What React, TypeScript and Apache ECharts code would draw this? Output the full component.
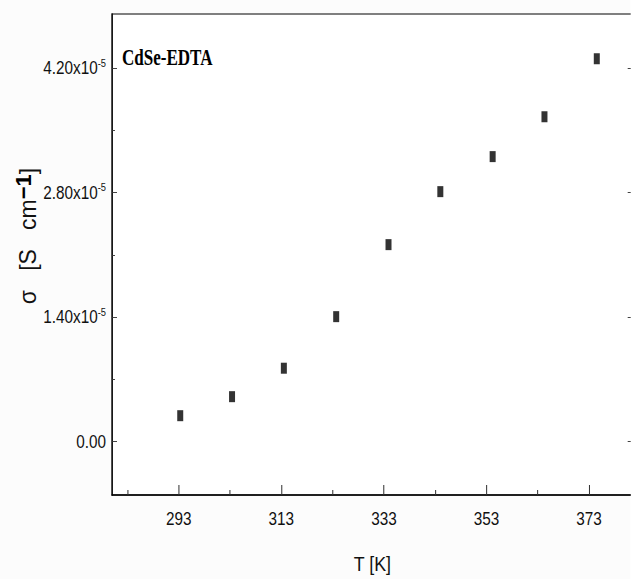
import React, { useEffect, useRef } from "react";
import * as echarts from "echarts";

// Data
const temperatureK: number[] = [293.3, 303.4, 313.5, 323.7, 333.9, 344.0, 354.2, 364.3, 374.5];
const conductivity: number[] = [0.292e-5, 0.506e-5, 0.826e-5, 1.406e-5, 2.216e-5, 2.812e-5, 3.206e-5, 3.655e-5, 4.308e-5];

const xMajorTicks: number[] = [293, 313, 333, 353, 373];
const xMinorTicks: number[] = [283, 303, 323, 343, 363];
const yMajorTicks: number[] = [0, 1.4e-5, 2.8e-5, 4.2e-5];
const yMinorTicks: number[] = [0.7e-5, 2.1e-5, 3.5e-5];

const sampleLabel = "CdSe-EDTA";
const xTitle = "T [K]";

// The reference is horizontally condensed; draw wider and squeeze with CSS.
const SQUEEZE = 0.85;
const W = 631 / SQUEEZE;
const H = 579;
const sx = (v: number) => v / SQUEEZE;

const sans = '"Liberation Sans", Arial, sans-serif';

export default function App() {
  const ref = useRef<HTMLDivElement>(null);
  useEffect(() => {
    if (!ref.current) return;
    const chart = echarts.init(ref.current, null, { renderer: "svg" });
    const xMin = 280;
    const xMax = 381.5;
    const yMin = -0.6e-5;
    const yMax = 4.81e-5;
    const fmtY = (v: number) => {
      if (Math.abs(v) < 1e-12) return "0.00";
      return (v * 1e5).toFixed(2) + "x10{s|-5}";
    };
    chart.setOption({
      animation: false,
      backgroundColor: "#fcfcfc",
      grid: {
        left: sx(112),
        top: 14,
        right: W - sx(633),
        bottom: 84,
        show: true,
        backgroundColor: "#ffffff",
        borderColor: "#555555",
        borderWidth: 1.5,
        outerBoundsMode: "none",
        containLabel: false,
      },
      xAxis: [
        {
          type: "value",
          min: xMin,
          max: xMax,
          position: "bottom",
          axisLine: { show: true, onZero: false, lineStyle: { color: "#000", width: 1.5 } },
          axisTick: { show: true, inside: true, length: 10, customValues: xMajorTicks, lineStyle: { color: "#333", width: 1.2 } },
          axisLabel: {
            show: true,
            customValues: xMajorTicks,
            margin: 15,
            fontSize: 18,
            fontFamily: sans,
            color: "#111",
          },
          splitLine: { show: false },
          name: xTitle,
          nameLocation: "middle",
          nameGap: 58,
          nameTextStyle: { fontSize: 21, fontFamily: sans, color: "#111" },
        },
        {
          type: "value",
          min: xMin,
          max: xMax,
          position: "bottom",
          axisLine: { show: false, onZero: false },
          axisTick: { show: true, inside: true, length: 5, customValues: xMinorTicks, lineStyle: { color: "#333", width: 1.2 } },
          axisLabel: { show: false },
          splitLine: { show: false },
        },
      ],
      yAxis: [
        {
          type: "value",
          min: yMin,
          max: yMax,
          position: "left",
          axisLine: { show: true, onZero: false, lineStyle: { color: "#000", width: 1.5 } },
          axisTick: { show: true, inside: true, length: sx(5), customValues: yMajorTicks, lineStyle: { color: "#333", width: 1 } },
          axisLabel: {
            show: true,
            customValues: yMajorTicks,
            margin: sx(6),
            fontSize: 18,
            fontFamily: sans,
            color: "#111",
            formatter: fmtY,
            rich: {
              s: { fontSize: 11, fontFamily: sans, color: "#111", padding: [0, 0, 10, 0] },
            },
          },
          splitLine: { show: false },
        },
        {
          type: "value",
          min: yMin,
          max: yMax,
          position: "left",
          axisLine: { show: false, onZero: false },
          axisTick: { show: true, inside: true, length: sx(3), customValues: yMinorTicks, lineStyle: { color: "#333", width: 1 } },
          axisLabel: { show: false },
          splitLine: { show: false },
        },
        {
          type: "value",
          min: yMin,
          max: yMax,
          position: "right",
          axisLine: { show: true, onZero: false, lineStyle: { color: "#000", width: 1.5 } },
          axisTick: { show: true, inside: true, length: sx(5), customValues: yMajorTicks, lineStyle: { color: "#333", width: 1 } },
          axisLabel: { show: false },
          splitLine: { show: false },
        },
      ],
      series: [
        {
          type: "scatter",
          xAxisIndex: 0,
          yAxisIndex: 0,
          symbol: "rect",
          symbolSize: [sx(6), 11],
          itemStyle: { color: "#000" },
          data: temperatureK.map((t, i) => [t, conductivity[i]]),
        },
      ],
      graphic: [
        {
          type: "text",
          x: sx(122),
          y: 57,
          scaleX: 0.71 / SQUEEZE,
          style: {
            text: sampleLabel,
            font: 'bold 24px "Liberation Serif", "Times New Roman", serif',
            fill: "#000",
            align: "left",
            verticalAlign: "middle",
          },
        },
        {
          type: "text",
          x: sx(28),
          y: 236,
          rotation: Math.PI / 2,
          scaleY: 1 / SQUEEZE,
          style: {
            text: "σ   [S   cm{s|−1}]",
            font: "23px " + sans,
            fill: "#111",
            align: "center",
            verticalAlign: "middle",
            rich: {
              s: { font: "bold 22px " + sans, fill: "#000", padding: [0, 0, 10, 0] },
            },
          },
        },
      ],
    });
    return () => chart.dispose();
  }, []);
  return (
    <div style={{ position: "absolute", left: 0, top: 0, width: 631, height: H, overflow: "hidden" }}>
      <div
        ref={ref}
        style={{ width: W, height: H, transform: `scaleX(${SQUEEZE})`, transformOrigin: "0 0" }}
      />
    </div>
  );
}
